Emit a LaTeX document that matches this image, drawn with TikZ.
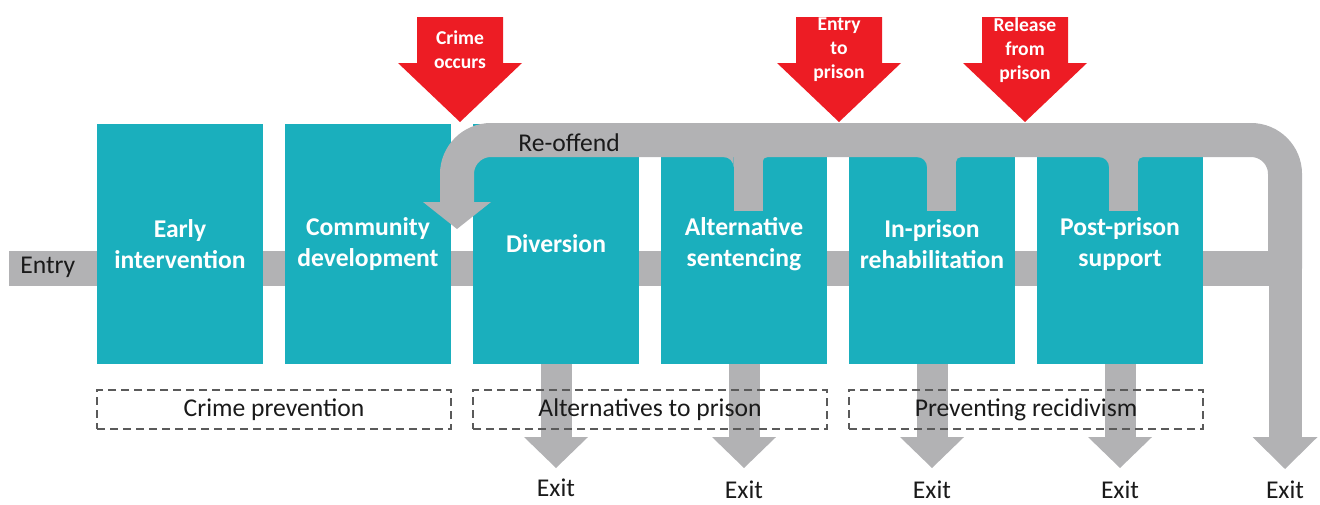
\documentclass[tikz,border=0pt]{standalone}
\usepackage{fontspec}
\setmainfont{Carlito}
\usetikzlibrary{arrows.meta,calc}
\definecolor{stage}{HTML}{1AAFBD}
\definecolor{flow}{HTML}{B2B2B4}
\definecolor{event}{HTML}{ED1C24}
\definecolor{frame}{HTML}{5A5A5A}
\definecolor{ink}{HTML}{1A1A1A}

\begin{document}
\begin{tikzpicture}[x=0.5pt,y=-0.5pt]
\tikzset{stagebox/.style={fill=stage,minimum width=83pt,minimum height=120pt,inner sep=0pt,
    text=white,align=center,font=\bfseries\fontsize{12.8}{15.5}\selectfont}}
\tikzset{flowband/.style={draw=flow,line width=17pt}}
\tikzset{exitarrow/.style={draw=flow,line width=15.5pt,-{Triangle[width=32pt,length=15.5pt,line width=0pt]}}}
\tikzset{eventtext/.style={text=white,align=center,inner sep=0pt,font=\bfseries\fontsize{9.8}{12}\selectfont}}
\tikzset{groupbox/.style={draw=frame,line width=1pt,dash pattern=on 4pt off 2.5pt,
    minimum width=177pt,minimum height=19.5pt,inner sep=0pt,text=ink,font=\fontsize{12.8}{15}\selectfont}}
\tikzset{plain/.style={inner sep=0pt,text=ink,font=\fontsize{12.8}{15}\selectfont}}
\useasboundingbox (0,0) rectangle (1320,504);

\coordinate (entry) at (9,268.5);
\coordinate (junction) at (1285,268.5);
\coordinate (reoffend) at (457,229);
\draw[flowband,line width=17.5pt] (entry) -- (junction);
\node[plain,anchor=base west] (entrylabel) at (20,273) {Entry};

\node[stagebox] (early) at (180,244) {Early\\intervention};
\node[stagebox] (community) at (368,244) {Community\\development};
\node[stagebox] (diversion) at (556,244) {Diversion};
\node[stagebox] (alternative) at (744,244) {Alternative\\sentencing};
\node[stagebox] (inprison) at (932,244) {In-prison\\rehabilitation};
\node[stagebox] (postprison) at (1120,244) {Post-prison\\support};

% re-offend loop and its branches
\draw[flowband,rounded corners=17pt,-{Triangle[width=34pt,length=13.5pt,line width=0pt]}]
  (junction) -- (1285,140) -- (457,140) -- (reoffend);
\node[plain,anchor=base west] (reoffendlabel) at (518,151) {Re-offend};
\foreach \x in {748,941.5,1123.5}{
  \fill[flow] (\x-14.5,150) rectangle (\x+14.5,211);
  \fill[flow] (\x-14.5,157) -- (\x-14.5,167) to[out=90,in=0] (\x-24.5,157) -- cycle;
  \fill[flow] (\x+14.5,157) -- (\x+14.5,162) to[out=90,in=180] (\x+19.5,157) -- cycle;
}

% events
\foreach \x/\name/\txt in {460/crime/{Crime\\occurs},839/jailed/{Entry\\to\\prison},1025/released/{Release\\from\\prison}}{
  \fill[event] (\x-43,17) -- (\x+43,17) -- (\x+43,63) -- (\x+62,63) -- (\x,122)
    -- (\x-62,63) -- (\x-43,63) -- cycle;
  \node[eventtext] (\name) at (\x,50) {\txt};
}

% exits
\coordinate (exit1) at (diversion.south |- 0,468);
\coordinate (exit2) at (alternative.south |- 0,468);
\coordinate (exit3) at (inprison.south |- 0,468);
\coordinate (exit4) at (postprison.south |- 0,468);
\coordinate (exit5) at (1285,469);
\draw[exitarrow] (diversion) -- (exit1);
\draw[exitarrow] (alternative) -- (exit2);
\draw[exitarrow] (inprison) -- (exit3);
\draw[exitarrow] (postprison) -- (exit4);
\draw[exitarrow,line width=16.5pt,shorten <=-12pt,-{Triangle[width=32.5pt,length=16pt,line width=0pt]}] (junction) -- (exit5);
\node[plain,anchor=base] (exitlabel1) at (exit1 |- 0,496) {Exit};
\foreach \n in {2,...,5}
  \node[plain,anchor=base] (exitlabel\n) at (exit\n |- 0,498) {Exit};

\node[groupbox] (prevention) at ($(early)!.5!(community)+(0,165.5)$) {Crime prevention};
\node[groupbox] (alternatives) at ($(diversion)!.5!(alternative)+(0,165.5)$) {Alternatives to prison};
\node[groupbox] (recidivism) at ($(inprison)!.5!(postprison)+(0,165.5)$) {Preventing recidivism};
\end{tikzpicture}
\end{document}
